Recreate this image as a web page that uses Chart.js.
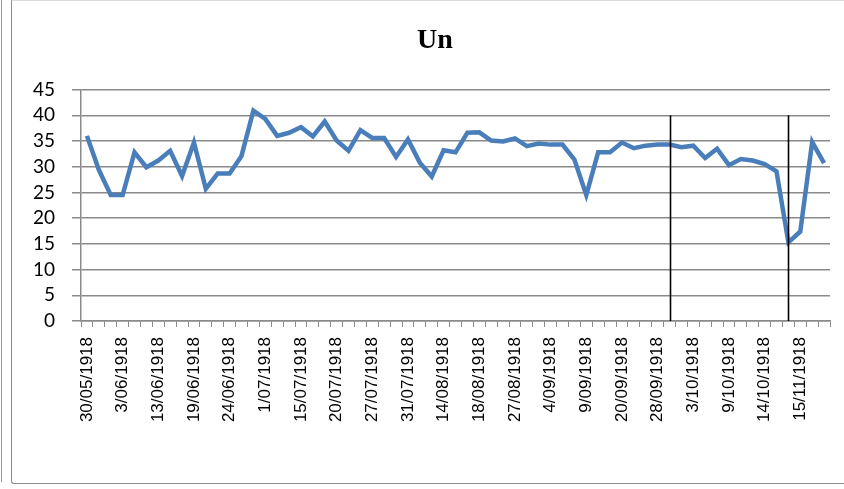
<!DOCTYPE html>
<html>
<head>
<meta charset="utf-8">
<script src="https://cdn.jsdelivr.net/npm/chart.js@4"></script>
<style>
  body { margin:0; background:#fff; }
  #wrap { position:relative; width:844px; height:489px; overflow:hidden; }
  #outerLine { position:absolute; left:1px; top:0; width:1px; height:482px; background:#999; }
  #frame { position:absolute; left:11px; top:0; width:900px; height:484px;
           border-left:1px solid #8c8c8c; border-bottom:1px solid #8c8c8c; border-top:1px solid #d9d9d9;
           border-bottom-left-radius:3px; box-sizing:border-box; }
  canvas { position:absolute; left:0; top:0; }
</style>
</head>
<body>
<div id="wrap">
  <div id="outerLine"></div>
  <div id="frame"></div>
  <canvas id="chart" width="844" height="489"></canvas>
</div>
<script>
// --- Data ---
const tickLabels = ['30/05/1918','3/06/1918','13/06/1918','19/06/1918','24/06/1918','1/07/1918',
  '15/07/1918','20/07/1918','27/07/1918','31/07/1918','14/08/1918','18/08/1918','27/08/1918',
  '4/09/1918','9/09/1918','20/09/1918','28/09/1918','3/10/1918','9/10/1918','14/10/1918','15/11/1918'];

const values = [36.0,29.4,24.5,24.5,32.8,29.9,31.2,33.1,28.2,34.7,
  25.7,28.7,28.7,32.1,40.9,39.3,36.0,36.6,37.7,35.9,
  38.8,35.1,33.1,37.1,35.6,35.6,31.9,35.3,30.8,28.1,
  33.2,32.8,36.6,36.7,35.1,34.9,35.5,34.0,34.5,34.3,
  34.3,31.4,24.5,32.8,32.8,34.7,33.6,34.1,34.3,34.3,
  33.8,34.1,31.7,33.5,30.3,31.5,31.2,30.5,29.1,15.3,
  17.4,34.8,30.7];

// vertical marker lines (category index) and their top value
const markerIdx = [49, 59];
const markerTop = 40;

// one label every 3 categories, the rest left blank
const labels = values.map((v,i)=> i%3===0 ? tickLabels[i/3] : '');

const gridGray = '#8a8a8a';

// --- marker lines plugin ---
const markerLines = {
  id:'markerLines',
  afterLayout(chart){
    // title box a bit narrower on the left, so "Un" sits where it does in the original
    chart.titleBlock.left = 40;
  },
  afterDatasetsDraw(chart){
    const {ctx, scales:{x, y}} = chart;
    ctx.save();
    ctx.strokeStyle = '#000';
    ctx.lineWidth = 1.6;
    markerIdx.forEach(i=>{
      const px = Math.round(x.getPixelForValue(i)) + 0.5;
      ctx.beginPath();
      ctx.moveTo(px, y.getPixelForValue(0));
      ctx.lineTo(px, y.getPixelForValue(markerTop));
      ctx.stroke();
    });
    ctx.restore();
  }
};

const ctx = document.getElementById('chart').getContext('2d');
new Chart(ctx,{
  type:'line',
  data:{
    labels: labels,
    datasets:[{
      label:'Un',
      data: values,
      borderColor:'#4a7ebb',
      borderWidth:4.5,
      pointRadius:0,
      tension:0,
      fill:false
    }]
  },
  options:{
    responsive:false,
    animation:false,
    layout:{ padding:{left:12, right:14, top:0, bottom:0} },
    plugins:{
      legend:{display:false},
      tooltip:{enabled:false},
      title:{
        display:true,
        text:'Un',
        color:'#000',
        font:{family:'"Liberation Serif", "DejaVu Serif", serif', size:28, weight:'bold'},
        padding:{top:24, bottom:32}
      }
    },
    scales:{
      x:{
        type:'category',
        offset:true,
        grid:{ offset:true, drawOnChartArea:false, drawTicks:true, tickLength:6, color:gridGray, lineWidth:1 },
        border:{ display:true, color:gridGray, width:1.5 },
        ticks:{
          autoSkip:false, maxRotation:90, minRotation:90, padding:10,
          color:'#000', font:{family:'"Liberation Sans", Arial, sans-serif', size:17}
        },
        afterFit(s){ s.height = 168; s.paddingLeft = 0; s.paddingRight = 0; }
      },
      y:{
        min:0, max:45,
        grid:{ color:gridGray, lineWidth:1.5, tickLength:9 },
        border:{ display:true, color:gridGray, width:1.5 },
        ticks:{
          stepSize:5, autoSkip:false, padding:17, color:'#000',
          font:{family:'Lato, "Open Sans", sans-serif', size:19}
        },
        afterFit(s){ s.width = 69; }
      }
    }
  },
  plugins:[markerLines]
});
</script>
</body>
</html>
